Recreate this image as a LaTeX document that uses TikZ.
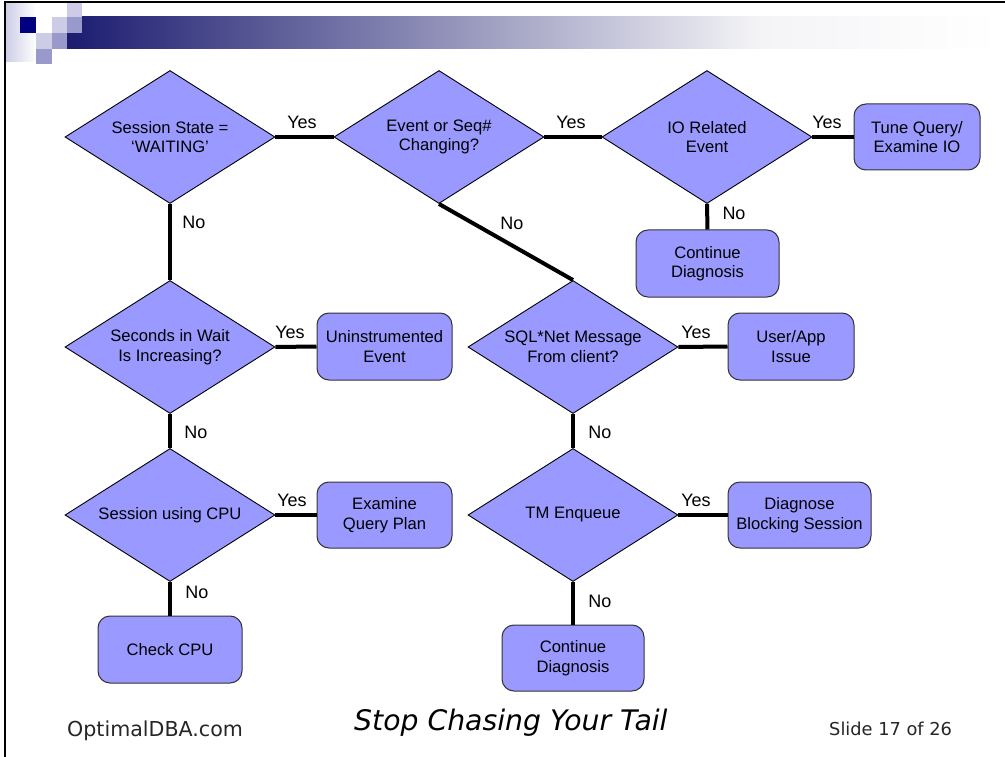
\documentclass[tikz,border=0pt]{standalone}
\usepackage{fontspec}
\usepackage{xcolor}
\setmainfont{Liberation Sans}
\newfontfamily\footfont{DejaVu Sans}
\usetikzlibrary{shapes.geometric}

\definecolor{flowblue}{RGB}{153,153,255}
\definecolor{navy}{RGB}{0,0,128}
\definecolor{barnavy}{RGB}{28,28,112}
\definecolor{palesq}{RGB}{204,204,230}
\definecolor{midsq}{RGB}{153,153,204}
\definecolor{fadeend}{RGB}{244,244,247}

\tikzset{
  decision/.style={diamond, shape aspect=1.58, draw=black, line width=0.9pt, fill=flowblue,
    minimum width=210pt, minimum height=133pt, inner sep=0pt, align=center,
    font=\fontsize{16.6}{19.5}\selectfont},
  outcome/.style={rectangle, rounded corners=12pt, draw=black!80, line width=1pt, fill=flowblue,
    minimum height=66pt, inner sep=2pt, align=center, font=\fontsize{16.6}{19.5}\selectfont},
  flow/.style={line width=4pt},
  answer/.style={inner sep=0pt, font=\fontsize{18}{20}\selectfont},
}

\begin{document}
\begin{tikzpicture}[x=1pt,y=-1pt]
            \fill[white] (0,0) rectangle (1005,757);
            \useasboundingbox (0,0) rectangle (1005,757);

            % slide header
            \shade[left color=palesq, right color=white] (5,2) rectangle (36,62);
            \shade[left color=barnavy, right color=fadeend] (67,17) rectangle (760,49);
            \shade[left color=fadeend, right color=white] (760,17) rectangle (1000,49);
            \fill[navy] (20,17) rectangle (36,33);
            \fill[palesq] (36,33) rectangle (52,49);
            \fill[palesq] (52,17) rectangle (67,33);
            \fill[palesq] (67,2) rectangle (82,17);
            \fill[midsq] (52,33) rectangle (67,49);
            \fill[midsq] (67,17) rectangle (82,33);
            \fill[midsq] (36,49) rectangle (52,64);
            \draw[line width=1.2pt] (5,757) -- (5,2) -- (1005,2);

            % decisions
            \node[decision] (state) at (170,137) {Session State =\\`WAITING'};
            \node[decision] (change) at (439,137) {Event or Seq\#\\Changing?};
            \node[decision] (io) at (707,137) {IO Related\\Event};
            \node[decision] (secs) at (170,347) {Seconds in Wait\\Is Increasing?};
            \node[decision] (cpu) at (170,515) {Session using CPU};
            \node[decision] (sqlnet) at (573,347) {SQL*Net Message\\From client?};
            \node[decision] (tm) at (573,515) {TM Enqueue};

            % outcomes
            \node[outcome, minimum width=126pt] (tune) at (917,137) {Tune Query/\\Examine IO};
            \node[outcome, minimum width=143pt, minimum height=67pt] (contA) at (707.5,263.5) {Continue\\Diagnosis};
            \node[outcome, minimum width=135pt, minimum height=67pt] (uninst) at (384.5,346.5) {Uninstrumented\\Event};
            \node[outcome, minimum width=135pt] (plan) at (384.5,515) {Examine\\Query Plan};
            \node[outcome, minimum width=144pt, minimum height=67pt] (chkcpu) at (170,649.5) {Check CPU};
            \node[outcome, minimum width=126pt, minimum height=67pt] (userapp) at (791,346.5) {User/App\\Issue};
            \node[outcome, minimum width=143pt] (block) at (799.5,515) {Diagnose\\Blocking Session};
            \node[outcome, minimum width=142pt] (contB) at (573,658) {Continue\\Diagnosis};

            \draw[flow] (state.east) -- (change.west); % state-change
            \draw[flow] (change.east) -- (io.west); % change-io
            \draw[flow] (io.east) -- (tune.west); % io-tune
            \draw[flow] (io.south) -- (contA.north); % io-contA
            \draw[flow] (state.south) -- (secs.north); % state-secs
            \draw[flow] (secs.east) -- (uninst.west); % secs-uninst
            \draw[flow] (secs.south) -- (cpu.north); % secs-cpu
            \draw[flow] (cpu.east) -- (plan.west); % cpu-plan
            \draw[flow] (cpu.south) -- (chkcpu.north); % cpu-chkcpu
            \draw[flow] (change.south) -- (sqlnet.north); % change-sqlnet
            \draw[flow] (sqlnet.east) -- (userapp.west); % sqlnet-userapp
            \draw[flow] (sqlnet.south) -- (tm.north); % sqlnet-tm
            \draw[flow] (tm.east) -- (block.west); % tm-block
            \draw[flow] (tm.south) -- (contB.north); % tm-contB

            % answers
            \node[answer] (yesA) at (302,122) {Yes};
            \node[answer] (yesB) at (571,122) {Yes};
            \node[answer] (yesC) at (827,122) {Yes};
            \node[answer] (noA) at (734,213) {No};
            \node[answer] (noB) at (194,222) {No};
            \node[answer] (noC) at (512,223) {No};
            \node[answer] (yesD) at (290,332) {Yes};
            \node[answer] (yesE) at (696,332) {Yes};
            \node[answer] (noD) at (196,432) {No};
            \node[answer] (noE) at (600,432) {No};
            \node[answer] (yesF) at (292,500) {Yes};
            \node[answer] (yesG) at (696,500) {Yes};
            \node[answer] (noF) at (197,592) {No};
            \node[answer] (noG) at (600,601) {No};

            % footer
            \node[anchor=base west, inner sep=0pt, text=black!85, font=\footfont\fontsize{20.6}{22}\selectfont] (site) at (67,736) {OptimalDBA.com};
            \node[anchor=base west, inner sep=0pt, font=\footfont\itshape\fontsize{28.3}{30}\selectfont] (motto) at (354,730) {Stop Chasing Your Tail};
            \node[anchor=base west, inner sep=0pt, text=black!85, font=\footfont\fontsize{17.8}{20}\selectfont] (slideno) at (829,735) {Slide 17 of 26};
        \end{tikzpicture}
\end{document}
